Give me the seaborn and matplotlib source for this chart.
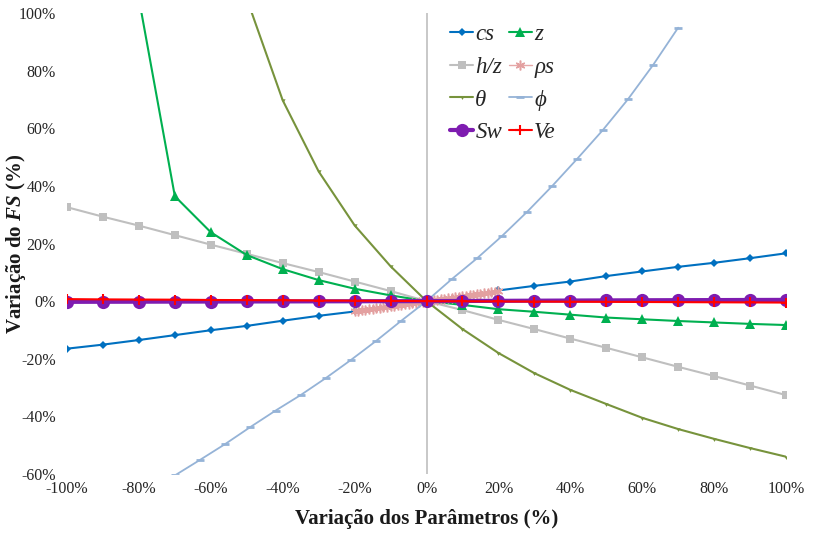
import numpy as np
import pandas as pd
import matplotlib
matplotlib.use("Agg")
import matplotlib.pyplot as plt
import seaborn as sns

nan = np.nan
# ---------------- data (percent) ----------------
x10 = [-100, -90, -80, -70, -60, -50, -40, -30, -20, -10, 0,
       10, 20, 30, 40, 50, 60, 70, 80, 90, 100]
cs = [-16.5, -15.1, -13.5, -11.8, -10.1, -8.6, -6.8, -5.1, -3.6, nan, nan,
      nan, 3.7, 5.3, 6.8, 8.7, 10.3, 11.9, 13.3, 14.9, 16.6]
z = [nan, nan, 105.0, 36.4, 23.9, 16.0, 11.1, 7.3, 4.3, 2.0, 0.0,
     -1.3, -2.8, -3.7, -4.7, -5.7, -6.3, -6.9, -7.4, -7.9, -8.3]
hz = [32.6, 29.3, 26.2, 22.9, 19.6, 16.4, 13.2, 10.1, 6.8, 3.5, 0.0,
      -3.1, -6.5, -9.7, -13.0, -16.2, -19.5, -22.8, -26.0, -29.3, -32.6]
theta = [nan, nan, nan, nan, nan, 105.0, 69.7, 45.0, 26.3, 12.1, 0.0,
         -9.7, -18.0, -25.0, -30.8, -35.7, -40.5, -44.4, -47.8, -51.0, -54.0]
sw = [-0.25, -0.22, -0.2, -0.17, -0.15, -0.12, -0.1, -0.07, -0.05, -0.02, 0.0,
      0.05, 0.1, 0.15, 0.2, 0.25, 0.3, 0.33, 0.36, 0.4, 0.43]
ve = [0.7, 0.6, 0.55, 0.5, 0.4, 0.35, 0.3, 0.2, 0.15, 0.1, 0.0,
      -0.05, -0.1, -0.15, -0.2, -0.25, -0.3, -0.35, -0.4, -0.45, -0.5]

phi_x = [-70, -63, -56, -49, -42, -35, -28, -21, -14, -7, 0,
         7, 14, 21, 28, 35, 42, 49, 56, 63, 70]
phi = [-60.5, -55.1, -49.6, -43.7, -38.0, -32.6, -26.7, -20.4, -13.8, -6.8, 0.0,
       7.6, 14.8, 22.6, 31.0, 40.0, 49.5, 59.3, 70.0, 81.9, 94.9]

rho_x = [-20, -19, -18, -17, -16, -15, -14, -13, -12, -11, -10, -9, -8, -7, -6,
         -5, -4, -3, -2, -1, 0, 1, 2, 3, 4, 5, 6, 7, 8, 9, 10, 11, 12, 13, 14,
         15, 16, 17, 18, 19, 20]
rho = [-3.6, -3.42, -3.24, -3.06, -2.88, -2.7, -2.52, -2.34, -2.16, -1.98, -1.8,
       -1.62, -1.44, -1.26, -1.08, -0.9, -0.72, -0.54, -0.36, -0.18, 0.0,
       0.17, 0.34, 0.51, 0.68, 0.85, 1.02, 1.19, 1.36, 1.53, 1.7,
       1.87, 2.04, 2.21, 2.38, 2.55, 2.72, 2.89, 3.06, 3.23, 3.4]

x_ticks = [-100, -80, -60, -40, -20, 0, 20, 40, 60, 80, 100]
y_ticks = [-60, -40, -20, 0, 20, 40, 60, 80, 100]

# ---------------- style ----------------
sns.set_theme(style="white")
plt.rcParams["font.family"] = ["Liberation Serif", "DejaVu Serif"]
plt.rcParams["mathtext.fontset"] = "custom"
plt.rcParams["mathtext.rm"] = "Liberation Serif"
plt.rcParams["mathtext.it"] = "Liberation Serif:italic"
plt.rcParams["mathtext.bf"] = "Liberation Serif:bold"
plt.rcParams["mathtext.bfit"] = "Liberation Serif:italic:bold"

fig = plt.figure(figsize=(8.13, 5.33), dpi=100)
ax = fig.add_axes([67 / 813, 1 - 474 / 533, 719 / 813, 461 / 533])

ax.axvline(0, color="#BFBFBF", lw=1.2, zorder=0)


def draw(xs, ys, label, z_, color, **kw):
    df = pd.DataFrame({"x": xs, "y": ys}).dropna()
    kw.setdefault("markeredgecolor", color)
    sns.lineplot(data=df, x="x", y="y", ax=ax, label=label, sort=False,
                 estimator=None, zorder=z_, color=color, **kw)


# cs in two segments (gap in the middle)
cs_df = pd.DataFrame({"x": x10, "y": cs})
neg = cs_df[cs_df.x < 0]
pos = cs_df[cs_df.x > 0]
draw(neg.x, neg.y, "cs", 3, "#0070C0", lw=1.5, marker="D", markersize=4.5,
     markeredgewidth=0)
draw(pos.x, pos.y, "_nolegend_", 3, "#0070C0", lw=1.5, marker="D",
     markersize=4.5, markeredgewidth=0)

draw(x10, z, "z", 3, "#00B050", lw=1.5, marker="^", markersize=6.5,
     markeredgewidth=0)
draw(x10, hz, "h/z", 2, "#BFBFBF", lw=1.5, marker="s", markersize=6,
     markeredgewidth=0)
draw(rho_x, rho, "ρs", 4, "#E6A8A8", lw=1.0, marker=(6, 2, 0),
     markersize=7, markeredgewidth=1.1, markeredgecolor="#E3A0A0")
draw(x10, theta, "θ", 4, "#77933C", lw=1.5, marker=(3, 0, 180),
     markersize=3.5, markeredgewidth=0)
draw(phi_x, phi, "ϕ", 4, "#95B3D7", lw=1.3, marker="_",
     markersize=6, markeredgewidth=2)
draw(x10, sw, "Sw", 5, "#7E1CB0", lw=3, marker="o", markersize=9.5,
     markeredgewidth=0)
draw(x10, ve, "Ve", 6, "#FF0000", lw=1.5, marker="+", markersize=7,
     markeredgewidth=1.5)

ax.set_xlim(-100, 100)
ax.set_ylim(-60, 100)
ax.set_xticks(x_ticks)
ax.set_xticklabels([f"{t}%" for t in x_ticks])
ax.set_yticks(y_ticks)
ax.set_yticklabels([f"{t}%" for t in y_ticks])
ax.tick_params(axis="both", length=0, labelsize=11.5, colors="#262626")
ax.tick_params(axis="x", pad=5)
ax.tick_params(axis="y", pad=8)
for s in ax.spines.values():
    s.set_visible(False)
ax.grid(False)

ax.set_xlabel("Variação dos Parâmetros (%)", fontsize=15, fontweight="bold",
              labelpad=9, color="#1a1a1a")
ax.set_ylabel("Variação do $\\mathbfit{FS}$ (%)", fontsize=15, fontweight="bold",
              color="#1a1a1a")
ax.yaxis.set_label_coords(-0.054, 0.5)

# legend: row order cs,z / h/z,ρs / θ,ϕ / Sw,Ve  -> column-major list
handles, labels = ax.get_legend_handles_labels()
hmap = dict(zip(labels, handles))
order = ["cs", "h/z", "θ", "Sw", "z", "ρs", "ϕ", "Ve"]
leg = ax.legend([hmap[k] for k in order], order, ncol=2, loc="upper left",
                bbox_to_anchor=(0.52, 0.997), frameon=False, fontsize=16.5,
                handlelength=1.0, handletextpad=0.1, columnspacing=0.3,
                labelspacing=0.52, borderaxespad=0.0)
for t in leg.get_texts():
    t.set_fontstyle("italic")

fig.savefig("out.png", dpi=100)
